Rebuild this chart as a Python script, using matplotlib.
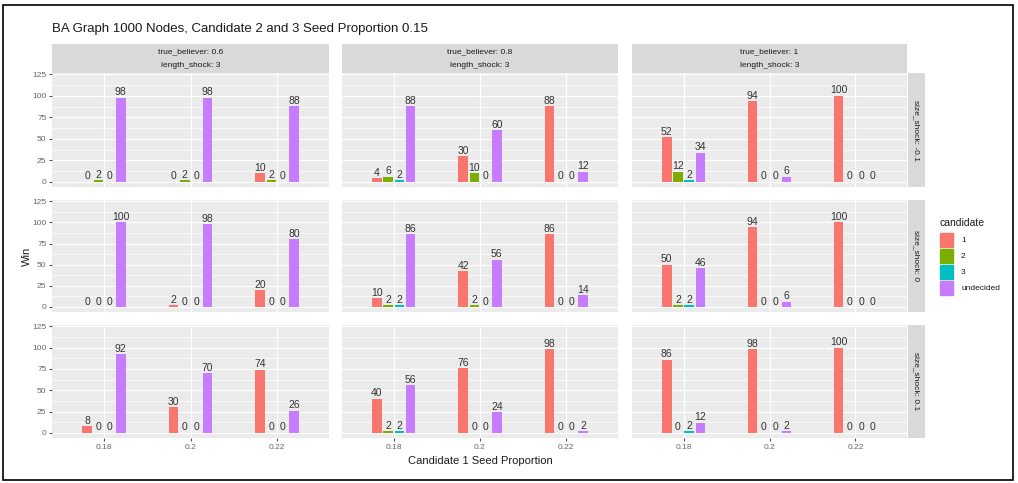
import numpy as np
import matplotlib
matplotlib.use("Agg")
import matplotlib.pyplot as plt
from matplotlib.patches import Rectangle

plt.rcParams['font.family'] = ['Liberation Sans', 'DejaVu Sans']

# facet levels
size_shock = ["-0.1", "0", "0.1"]
true_believer = ["0.6", "0.8", "1"]
seed_props = ["0.18", "0.2", "0.22"]
candidates = ["1", "2", "3", "undecided"]
colors = ["#F8766D", "#7CAE00", "#00BFC4", "#C77CFF"]

# wins per [row][col][seed] -> [cand1, cand2, cand3, undecided]
wins_m01 = [
    [[0, 2, 0, 98], [0, 2, 0, 98], [10, 2, 0, 88]],
    [[4, 6, 2, 88], [30, 10, 0, 60], [88, 0, 0, 12]],
    [[52, 12, 2, 34], [94, 0, 0, 6], [100, 0, 0, 0]],
]
wins_0 = [
    [[0, 0, 0, 100], [2, 0, 0, 98], [20, 0, 0, 80]],
    [[10, 2, 2, 86], [42, 2, 0, 56], [86, 0, 0, 14]],
    [[50, 2, 2, 46], [94, 0, 0, 6], [100, 0, 0, 0]],
]
wins_p01 = [
    [[8, 0, 0, 92], [30, 0, 0, 70], [74, 0, 0, 26]],
    [[40, 2, 2, 56], [76, 0, 0, 24], [98, 0, 0, 2]],
    [[86, 0, 2, 12], [98, 0, 0, 2], [100, 0, 0, 0]],
]
wins = [wins_m01, wins_0, wins_p01]

W, H = 1018, 483
fig = plt.figure(figsize=(W / 100, H / 100), dpi=100)
fig.patch.set_facecolor("white")

def px_axes(x0, y0, x1, y1):
    return fig.add_axes([x0 / W, 1 - y1 / H, (x1 - x0) / W, (y1 - y0) / H])

col_x = [(52, 329), (342, 618), (632, 907)]
row_y = [(73, 187), (200, 312), (325, 438)]
strip_top = 44

slot = 0.13
bw = 0.11
offsets = (np.arange(4) - 1.5) * slot

for r in range(3):
    for c in range(3):
        x0, x1 = col_x[c]
        y0, y1 = row_y[r]
        ax = px_axes(x0, y0, x1, y1)
        ax.set_facecolor("#EBEBEB")
        ax.set_xlim(-0.6, 2.6)
        ax.set_ylim(-6, 126.5)
        ax.set_yticks([0, 25, 50, 75, 100, 125])
        ax.set_yticks(np.arange(12.5, 126, 25), minor=True)
        ax.set_xticks(range(3))
        ax.grid(True, which="major", color="white", lw=0.9)
        ax.grid(True, which="minor", axis="y", color="white", lw=0.5)
        ax.set_axisbelow(True)
        for s in ax.spines.values():
            s.set_visible(False)
        ax.tick_params(which="both", length=2, color="#555555", labelsize=6,
                       labelcolor="#666666", pad=2)
        ax.tick_params(which="minor", length=0)
        if c > 0:
            ax.tick_params(axis="y", length=0, labelleft=False)
        if r < 2:
            ax.tick_params(axis="x", length=0, labelbottom=False)
        else:
            ax.set_xticklabels(seed_props)
        for k in range(4):
            vals = [wins[r][c][s][k] for s in range(3)]
            xs = np.arange(3) + offsets[k]
            ax.bar(xs, vals, width=bw, color=colors[k], zorder=2)
            for xv, v in zip(xs, vals):
                ax.text(xv, v + 0.5, str(v), ha="center", va="bottom",
                        fontsize=7.5, color="#333333", zorder=3)

        # top strips
        if r == 0:
            sax = px_axes(x0, strip_top, x1, y0)
            sax.set_facecolor("#D9D9D9")
            sax.set_xticks([])
            sax.set_yticks([])
            for s in sax.spines.values():
                s.set_visible(False)
            sax.text(0.5, 0.72, "true_believer: " + true_believer[c], ha="center",
                     va="center", fontsize=6, color="#1A1A1A", transform=sax.transAxes)
            sax.text(0.5, 0.25, "length_shock: 3", ha="center", va="center",
                     fontsize=6, color="#1A1A1A", transform=sax.transAxes)
    # right strips
    y0, y1 = row_y[r]
    rax = px_axes(908, y0, 925, y1)
    rax.set_facecolor("#D9D9D9")
    rax.set_xticks([])
    rax.set_yticks([])
    for s in rax.spines.values():
        s.set_visible(False)
    rax.text(0.5, 0.5, "size_shock: " + size_shock[r], ha="center", va="center",
             rotation=-90, fontsize=6, color="#1A1A1A", transform=rax.transAxes)

fig.text(52 / W, 1 - 29 / H, "BA Graph 1000 Nodes, Candidate 2 and 3 Seed Proportion 0.15",
         fontsize=9.5, color="#1A1A1A", va="center", ha="left")
fig.text(480 / W, 1 - 461 / H, "Candidate 1 Seed Proportion", fontsize=8,
         color="#1A1A1A", ha="center", va="center")
fig.text(27 / W, 1 - 256 / H, "Win", fontsize=8, color="#1A1A1A",
         ha="center", va="center", rotation=90)

# legend
fig.text(940 / W, 1 - 223 / H, "candidate", fontsize=7.5, color="#1A1A1A",
         ha="left", va="center")
for k, lab in enumerate(candidates):
    yc = 240 + k * 16
    fig.patches.append(Rectangle((940 / W, 1 - (yc + 7) / H), 13 / W, 14 / H,
                                 transform=fig.transFigure, color=colors[k]))
    fig.text(961 / W, 1 - yc / H, lab, fontsize=6, color="#1A1A1A",
             ha="left", va="center")

# outer border
fig.patches.append(Rectangle((3 / W, 3 / H), (W - 8) / W, (H - 8) / H,
                             transform=fig.transFigure, fill=False,
                             edgecolor="black", lw=1.2))

fig.savefig("out.png", dpi=100)
